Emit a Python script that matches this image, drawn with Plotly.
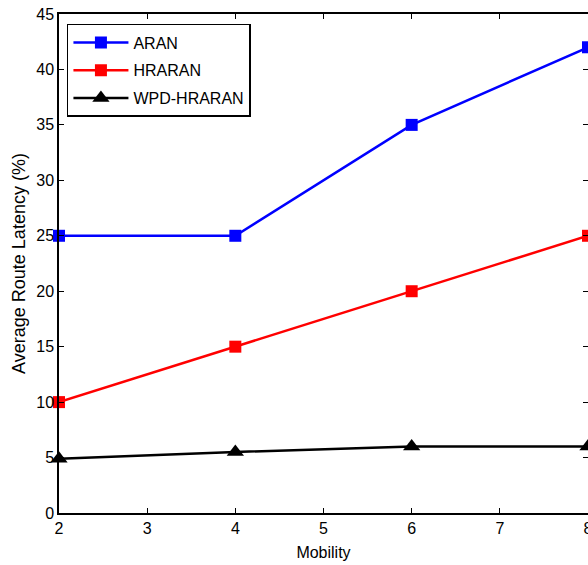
import plotly.graph_objects as go

mobility = [2, 4, 6, 8]
aran = [25, 25, 35, 42]
hraran = [10, 15, 20, 25]
wpd_hraran = [4.9, 5.5, 6.0, 6.0]

FONT = "Liberation Sans, Arial, sans-serif"

fig = go.Figure()
fig.add_trace(go.Scatter(x=mobility, y=aran, name="ARAN", mode="lines+markers", cliponaxis=False,
                         legendgroup="a",
                         line=dict(color="#0000ff", width=2.5),
                         marker=dict(symbol="square", size=12, color="#0000ff")))
fig.add_trace(go.Scatter(x=mobility, y=hraran, name="HRARAN", mode="lines+markers", cliponaxis=False,
                         legendgroup="b",
                         line=dict(color="#ff0000", width=2.5),
                         marker=dict(symbol="square", size=12, color="#ff0000")))
fig.add_trace(go.Scatter(x=mobility, y=wpd_hraran, name="WPD-HRARAN", mode="lines+markers", cliponaxis=False,
                         legendgroup="c",
                         line=dict(color="#000000", width=2.5),
                         marker=dict(symbol="triangle-up", size=15, color="#000000")))

axis_common = dict(showgrid=False, zeroline=False, showline=True, linecolor="black",
                   linewidth=1.5, mirror="ticks", ticks="inside", ticklen=5,
                   tickcolor="black", tickwidth=1, automargin=False,
                   ticklabeloverflow="allow",
                   tickfont=dict(family=FONT, size=16, color="black"))

fig.update_layout(
    width=588, height=565,
    margin=dict(l=59, r=0, t=14, b=52),
    paper_bgcolor="white", plot_bgcolor="white",
    font=dict(family=FONT, color="black"),
    xaxis=dict(range=[2, 8], dtick=1, title=dict(text="Mobility", font=dict(size=16), standoff=11),
               **axis_common),
    yaxis=dict(range=[0, 45], dtick=5, title=dict(text="Average Route Latency (%)", font=dict(size=18), standoff=6),
               **axis_common),
    legend=dict(x=0.015, y=0.98, xanchor="left", yanchor="top",
                bgcolor="white", bordercolor="black", borderwidth=1.5,
                font=dict(size=16, family=FONT),
                itemwidth=55, tracegroupgap=4),
    showlegend=True,
)

fig.write_html(
    "out.html",
    config={"displayModeBar": False},
    post_script="document.documentElement.style.overflow='hidden';"
                "document.body.style.margin='0';document.body.style.overflow='hidden';",
)
